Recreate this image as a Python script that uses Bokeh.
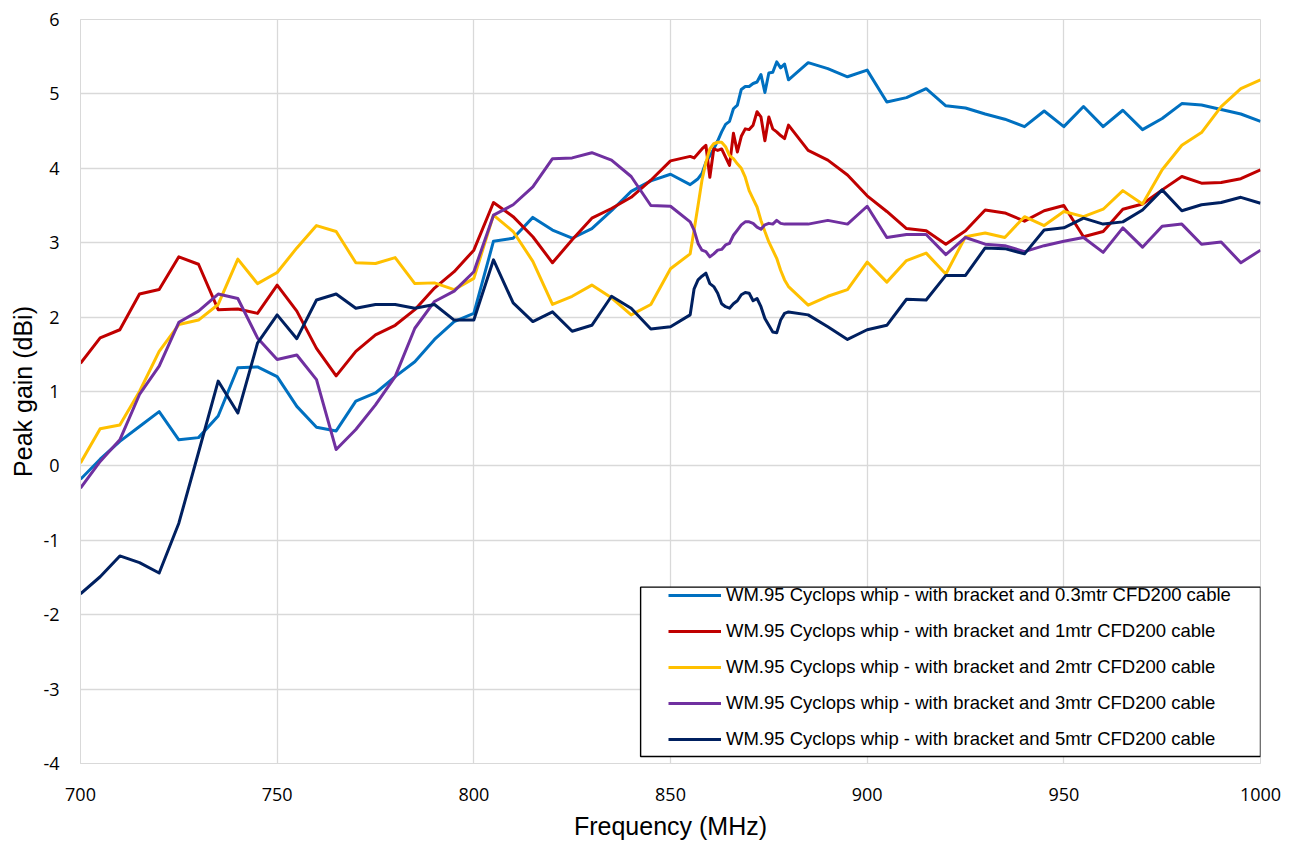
from bokeh.plotting import figure
from bokeh.models import Range1d, FixedTicker, Legend, LegendItem, BoxAnnotation, PrintfTickFormatter
from bokeh.embed import file_html
from bokeh.resources import INLINE

freq = list(range(700, 856, 5)) + list(range(856, 881, 1)) + list(range(885, 1001, 5))

gain_03m = [-0.18, 0.09, 0.33, 0.53, 0.73, 0.35, 0.38, 0.67, 1.32, 1.33,
            1.20, 0.80, 0.52, 0.47, 0.87, 0.98, 1.20, 1.40, 1.70, 1.94,
            2.05, 3.02, 3.06, 3.34, 3.17, 3.06, 3.19, 3.43, 3.69, 3.83,
            3.92, 3.78,
            3.82, 3.86, 3.93, 4.08, 4.17, 4.26, 4.37, 4.49, 4.59, 4.63,
            4.80, 4.85, 5.06, 5.10, 5.10, 5.14, 5.16, 5.26, 5.02, 5.28,
            5.29, 5.43, 5.35, 5.40, 5.19,
            5.42, 5.34, 5.23, 5.32, 4.89, 4.95, 5.07, 4.84, 4.81, 4.73,
            4.66, 4.56, 4.77, 4.56, 4.83, 4.56, 4.78, 4.52, 4.67, 4.87,
            4.85, 4.79, 4.73, 4.63]

gain_1m = [1.38, 1.72, 1.83, 2.31, 2.37, 2.81, 2.71, 2.10, 2.11, 2.05,
           2.43, 2.08, 1.58, 1.21, 1.54, 1.76, 1.89, 2.10, 2.39, 2.61,
           2.90, 3.54, 3.35, 3.08, 2.73, 3.04, 3.33, 3.46, 3.61, 3.84,
           4.10, 4.16,
           4.14, 4.20, 4.26, 4.31, 3.88, 4.26, 4.24, 4.26, 4.15, 4.04,
           4.47, 4.22, 4.43, 4.53, 4.52, 4.58, 4.76, 4.69, 4.37, 4.69,
           4.53, 4.49, 4.44, 4.40, 4.58,
           4.24, 4.11, 3.91, 3.63, 3.42, 3.19, 3.16, 2.98, 3.16, 3.44,
           3.40, 3.29, 3.43, 3.50, 3.08, 3.15, 3.45, 3.52, 3.71, 3.89,
           3.80, 3.81, 3.86, 3.98]

gain_2m = [0.04, 0.50, 0.55, 1.00, 1.54, 1.90, 1.96, 2.17, 2.78, 2.45,
           2.60, 2.93, 3.23, 3.15, 2.73, 2.72, 2.80, 2.45, 2.46, 2.37,
           2.52, 3.37, 3.15, 2.75, 2.17, 2.28, 2.43, 2.26, 2.03, 2.17,
           2.65, 2.85,
           3.17, 3.50, 3.84, 4.08, 4.26, 4.33, 4.35, 4.35, 4.29, 4.17,
           4.13, 4.06, 4.00, 3.88, 3.70, 3.59, 3.48, 3.30, 3.15, 3.01,
           2.90, 2.79, 2.63, 2.50, 2.41,
           2.16, 2.28, 2.37, 2.74, 2.47, 2.76, 2.86, 2.58, 3.08, 3.13,
           3.07, 3.35, 3.23, 3.42, 3.35, 3.45, 3.70, 3.52, 3.98, 4.31,
           4.48, 4.83, 5.07, 5.19]

gain_3m = [-0.30, 0.06, 0.35, 0.96, 1.34, 1.93, 2.08, 2.31, 2.25, 1.72,
           1.43, 1.49, 1.16, 0.22, 0.49, 0.82, 1.20, 1.85, 2.21, 2.35,
           2.61, 3.37, 3.51, 3.75, 4.13, 4.14, 4.21, 4.11, 3.89, 3.50,
           3.49, 3.28,
           3.17, 2.99, 2.90, 2.88, 2.81, 2.85, 2.90, 2.91, 2.97, 2.99,
           3.10, 3.17, 3.24, 3.28, 3.28, 3.26, 3.21, 3.18, 3.24, 3.26,
           3.25, 3.30, 3.26, 3.25, 3.25,
           3.25, 3.30, 3.25, 3.49, 3.07, 3.11, 3.11, 2.84, 3.07, 2.98,
           2.96, 2.88, 2.96, 3.02, 3.07, 2.87, 3.20, 2.94, 3.22, 3.25,
           2.98, 3.01, 2.73, 2.90]

gain_5m = [-1.72, -1.49, -1.21, -1.30, -1.44, -0.77, 0.18, 1.14, 0.71, 1.65,
           2.03, 1.71, 2.23, 2.31, 2.12, 2.17, 2.17, 2.12, 2.17, 1.96,
           1.96, 2.77, 2.19, 1.94, 2.07, 1.81, 1.89, 2.28, 2.12, 1.84,
           1.87, 2.03,
           2.38, 2.50, 2.55, 2.59, 2.45, 2.41, 2.32, 2.18, 2.14, 2.12,
           2.18, 2.22, 2.30, 2.33, 2.32, 2.22, 2.25, 2.14, 1.98, 1.89,
           1.80, 1.79, 1.96, 2.05, 2.07,
           2.03, 1.87, 1.70, 1.83, 1.89, 2.24, 2.23, 2.56, 2.56, 2.93,
           2.92, 2.85, 3.17, 3.20, 3.33, 3.25, 3.28, 3.44, 3.71, 3.43,
           3.51, 3.54, 3.61, 3.53]

labels = [
    "WM.95 Cyclops whip - with bracket and 0.3mtr CFD200 cable",
    "WM.95 Cyclops whip - with bracket and 1mtr CFD200 cable",
    "WM.95 Cyclops whip - with bracket and 2mtr CFD200 cable",
    "WM.95 Cyclops whip - with bracket and 3mtr CFD200 cable",
    "WM.95 Cyclops whip - with bracket and 5mtr CFD200 cable",
]
series = [gain_03m, gain_1m, gain_2m, gain_3m, gain_5m]
colors = ["#0070C0", "#C00000", "#FFC000", "#7030A0", "#002060"]

x_ticks = [700, 750, 800, 850, 900, 950, 1000]
y_ticks = [-4, -3, -2, -1, 0, 1, 2, 3, 4, 5, 6]

grid_color = "#D9D9D9"

p = figure(width=1292, height=843, output_backend="svg", toolbar_location=None,
           x_range=Range1d(700, 1000), y_range=Range1d(-4, 6),
           min_border_left=80, min_border_right=32, min_border_top=19,
           min_border_bottom=80)

p.outline_line_color = grid_color
p.background_fill_color = "white"
p.border_fill_color = "white"

for ax in (p.xaxis[0], p.yaxis[0]):
    ax.axis_line_color = grid_color
    ax.major_tick_line_color = None
    ax.minor_tick_line_color = None
    ax.major_label_text_font = "Open Sans"
    ax.major_label_text_font_size = "18px"
    ax.major_label_text_color = "#000000"
    ax.axis_label_text_font = "Liberation Sans"
    ax.axis_label_text_font_size = "25px"
    ax.axis_label_text_font_style = "normal"
    ax.axis_label_text_color = "#000000"
    ax.formatter = PrintfTickFormatter(format="%d")

p.xaxis[0].ticker = FixedTicker(ticks=x_ticks)
p.yaxis[0].ticker = FixedTicker(ticks=y_ticks)
p.xaxis[0].axis_label = "Frequency (MHz)"
p.yaxis[0].axis_label = "Peak gain (dBi)"
p.xaxis[0].major_label_standoff = 18
p.xaxis[0].axis_label_standoff = 8
p.yaxis[0].major_label_standoff = 15
p.yaxis[0].axis_label_standoff = 3

p.xgrid[0].ticker = FixedTicker(ticks=x_ticks)
p.ygrid[0].ticker = FixedTicker(ticks=y_ticks)
p.xgrid[0].grid_line_color = grid_color
p.ygrid[0].grid_line_color = grid_color
p.xgrid[0].grid_line_width = 1.3
p.ygrid[0].grid_line_width = 1.3

items = []
for lab, ys, col in zip(labels, series, colors):
    r = p.line(freq, ys, line_color=col, line_width=3, line_join="round")
    items.append(LegendItem(label=lab, renderers=[r]))

# legend frame (white box with black border)
box = BoxAnnotation(left=842.4, right=1000, top=-1.63, bottom=-3.905,
                    fill_color="white", fill_alpha=1.0,
                    line_color="black", line_alpha=1.0, line_width=1.4)
p.add_layout(box)

legend = Legend(items=items, location=(582, 7),
                padding=6, spacing=14, margin=0,
                glyph_width=53, glyph_height=20, label_height=20,
                label_standoff=5,
                label_text_font="Liberation Sans", label_text_font_size="18.5px",
                label_text_color="#000000",
                border_line_alpha=0, background_fill_alpha=0)
p.add_layout(legend, "center")

open("out.html", "w").write(file_html(p, INLINE))
